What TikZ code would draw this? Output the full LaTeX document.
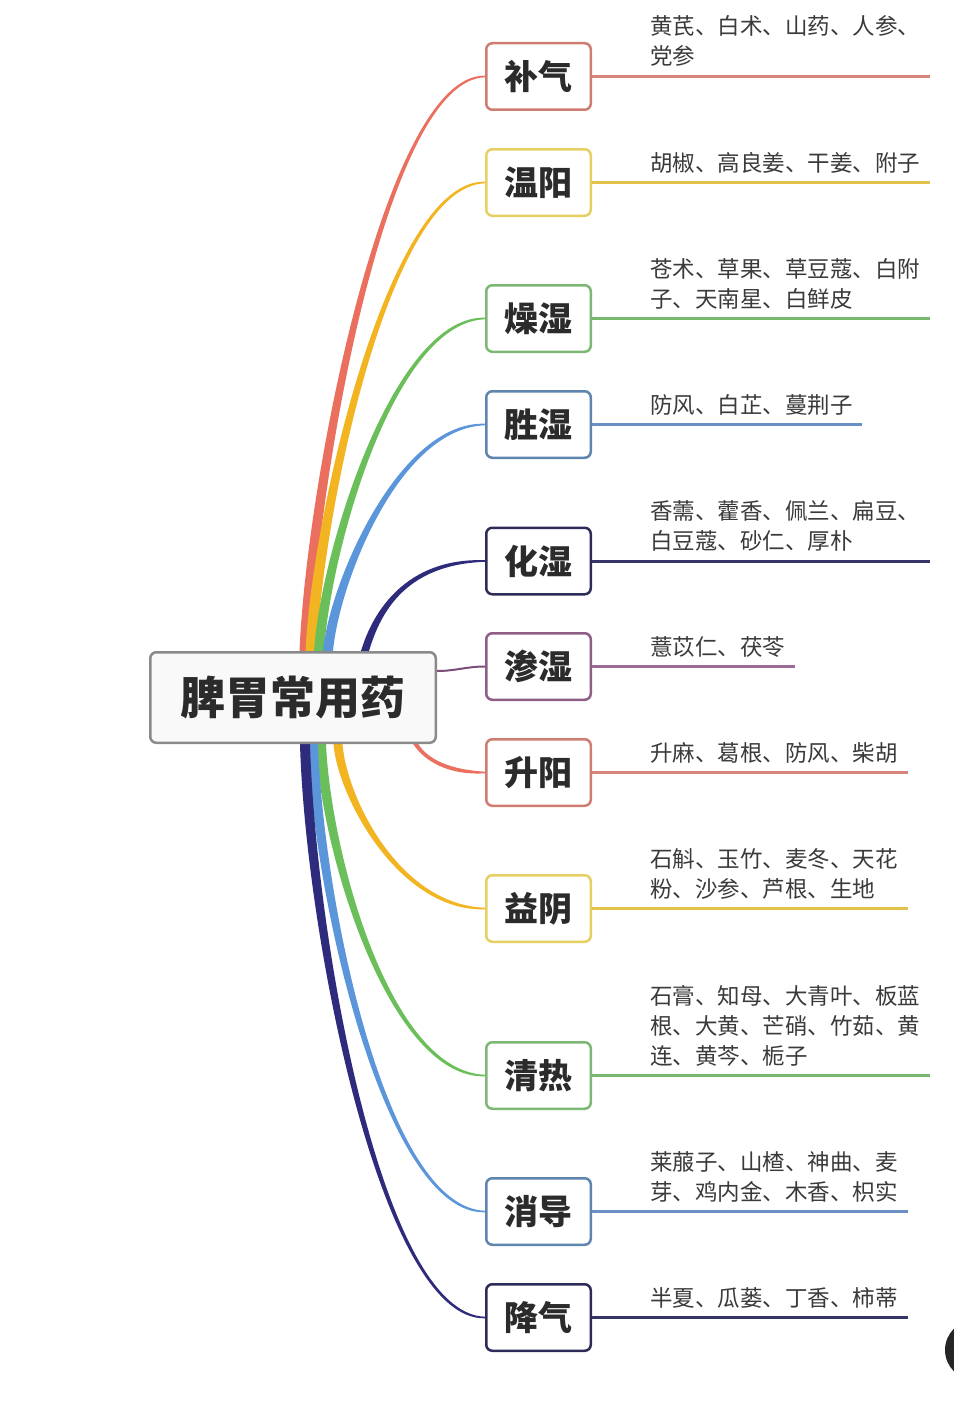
\documentclass[tikz,border=0pt]{standalone}
\usepackage{fontspec}
\setmainfont{Noto Sans CJK SC}
\usetikzlibrary{calc,backgrounds}
\definecolor{redC}{HTML}{EB6F5F}\definecolor{redB}{HTML}{CF7C72}\definecolor{redU}{HTML}{D7857A}
\definecolor{yelC}{HTML}{F2B521}\definecolor{yelB}{HTML}{E6CF63}\definecolor{yelU}{HTML}{E3C24C}
\definecolor{grnC}{HTML}{6BBF5A}\definecolor{grnB}{HTML}{7CB873}\definecolor{grnU}{HTML}{79B76C}
\definecolor{bluC}{HTML}{5B96DA}\definecolor{bluB}{HTML}{5E85AE}\definecolor{bluU}{HTML}{6A8FC4}
\definecolor{navC}{HTML}{2F2B7C}\definecolor{navB}{HTML}{2D2C58}\definecolor{navU}{HTML}{363568}
\definecolor{purC}{HTML}{7D4E7B}\definecolor{purB}{HTML}{8E5E86}\definecolor{purU}{HTML}{9C6A94}
\definecolor{hubline}{HTML}{8A8A8A}\definecolor{hubfill}{HTML}{F9F9F9}
\definecolor{textc}{HTML}{2B2B2B}\definecolor{leaftext}{HTML}{3A3A3A}
\tikzset{
  hub/.style={draw=hubline, fill=hubfill, line width=2.5pt, rounded corners=6pt,
    minimum width=285.5pt, minimum height=90.5pt, inner sep=0pt,
    font=\fontsize{45}{50}\selectfont\bfseries, text=textc},
  cat/.style={draw=#1, fill=white, line width=2.5pt, rounded corners=6pt,
    minimum width=104.5pt, minimum height=66.5pt, inner sep=0pt,
    font=\fontsize{34}{40}\selectfont\bfseries, text=textc},
  leaf/.style={anchor=base west, align=left, inner sep=0pt,
    font=\fontsize{22.5}{30}\selectfont, text=leaftext},
  uline/.style={draw=#1, line width=3pt},
}
% tapered connector: #1 root coordinate, #2 target node, #3 root width, #4 colour, #5 #6 #7 control fractions
\newcommand\taperline[7]{%
  \fill[#4] let \p0=(#1), \p3=(#2.west), \n1={\x3-\x0}, \n2={\y3-\y0}, \n3={sign(\n2)} in
   ({\x0-0.5*#3pt},{\y0}) .. controls ({\x0-0.5*#3pt+#5*\n1},{\y0+#6*\n2}) and ({\x0+#7*\n1},{\y3+\n3*3.5pt}) .. ({\x3},{\y3+\n3*0.8pt})
   -- ({\x3},{\y3-\n3*0.8pt}) .. controls ({\x0+#7*\n1},{\y3-\n3*3.5pt}) and ({\x0+0.5*#3pt+#5*\n1},{\y0+#6*\n2}) .. ({\x0+0.5*#3pt},{\y0}) -- cycle;}
\begin{document}
\begin{tikzpicture}[x=1pt,y=-1pt]
\useasboundingbox (0,0) rectangle (953,1402);
% hub
\node[hub] (hub) at (293,697.5) {脾胃常用药};
% categories
\node[cat=redB] (b1) at (538.5,76.5) {补气};
\node[cat=yelB] (b2) at (538.5,182.5) {温阳};
\node[cat=grnB] (b3) at (538.5,318.5) {燥湿};
\node[cat=bluB] (b4) at (538.5,424.5) {胜湿};
\node[cat=navB] (b5) at (538.5,561) {化湿};
\node[cat=purB] (b6) at (538.5,666.5) {渗湿};
\node[cat=redB] (b7) at (538.5,772.5) {升阳};
\node[cat=yelB] (b8) at (538.5,908.5) {益阴};
\node[cat=grnB] (b9) at (538.5,1075.5) {清热};
\node[cat=bluB] (b10) at (538.5,1211.5) {消导};
\node[cat=navB] (b11) at (538.5,1317.5) {降气};
% underline ends
\coordinate (e1) at (930,76.5);
\coordinate (e2) at (930,182.5);
\coordinate (e3) at (930,318.5);
\coordinate (e4) at (862,424.5);
\coordinate (e5) at (930,561);
\coordinate (e6) at (795,666.5);
\coordinate (e7) at (908,772.5);
\coordinate (e8) at (908,908.5);
\coordinate (e9) at (930,1075.5);
\coordinate (e10) at (908,1211.5);
\coordinate (e11) at (908,1317.5);
% leaves (base = baseline of last line)
\node[leaf] (l1) at (650,65) {黄芪、白术、山药、人参、\\党参};
\node[leaf] (l2) at (650,171) {胡椒、高良姜、干姜、附子};
\node[leaf] (l3) at (650,307) {苍术、草果、草豆蔻、白附\\子、天南星、白鲜皮};
\node[leaf] (l4) at (650,413) {防风、白芷、蔓荆子};
\node[leaf] (l5) at (650,549.5) {香薷、藿香、佩兰、扁豆、\\白豆蔻、砂仁、厚朴};
\node[leaf] (l6) at (650,655) {薏苡仁、茯苓};
\node[leaf] (l7) at (650,761) {升麻、葛根、防风、柴胡};
\node[leaf] (l8) at (650,897) {石斛、玉竹、麦冬、天花\\粉、沙参、芦根、生地};
\node[leaf] (l9) at (650,1064) {石膏、知母、大青叶、板蓝\\根、大黄、芒硝、竹茹、黄\\连、黄芩、栀子};
\node[leaf] (l10) at (650,1200) {莱菔子、山楂、神曲、麦\\芽、鸡内金、木香、枳实};
\node[leaf] (l11) at (650,1306) {半夏、瓜蒌、丁香、柿蒂};
% underlines
\foreach \i/\c in {1/redU,2/yelU,3/grnU,4/bluU,5/navU,6/purU,7/redU,8/yelU,9/grnU,10/bluU,11/navU}
  \draw[uline=\c] (b\i.east) -- (e\i);
% roots
\coordinate (r1) at (305,651);
\coordinate (r2) at (311,651);
\coordinate (r3) at (319,651);
\coordinate (r4) at (328,651);
\coordinate (r5) at (365,651);
\coordinate (r6) at (437,671);
\coordinate (r7) at (412,737);
\coordinate (r8) at (338,744);
\coordinate (r9) at (321,744);
\coordinate (r10) at (313,744);
\coordinate (r11) at (305,744);
\begin{scope}[on background layer]
  \taperline{r1}{b1}{11}{redC}{0.04}{0.3}{0.45}
  \taperline{r2}{b2}{11}{yelC}{0.04}{0.3}{0.45}
  \taperline{r3}{b3}{10}{grnC}{0.04}{0.3}{0.45}
  \taperline{r4}{b4}{10}{bluC}{0.04}{0.3}{0.45}
  \taperline{r5}{b5}{8}{navC}{0.1}{0.45}{0.35}
  \draw[purC, line width=2pt] (r6) to[out=0,in=180] (b6.west);
  \taperline{r7}{b7}{5}{redC}{0.1}{0.5}{0.4}
  \taperline{r8}{b8}{9}{yelC}{0.03}{0.33}{0.42}
  \taperline{r9}{b9}{10}{grnC}{0.03}{0.33}{0.42}
  \taperline{r10}{b10}{10}{bluC}{0.03}{0.33}{0.42}
  \taperline{r11}{b11}{10}{navC}{0.03}{0.33}{0.42}
\end{scope}
% edge artefact
\fill[black!85] (975,1350) circle (30);
\end{tikzpicture}
\end{document}
